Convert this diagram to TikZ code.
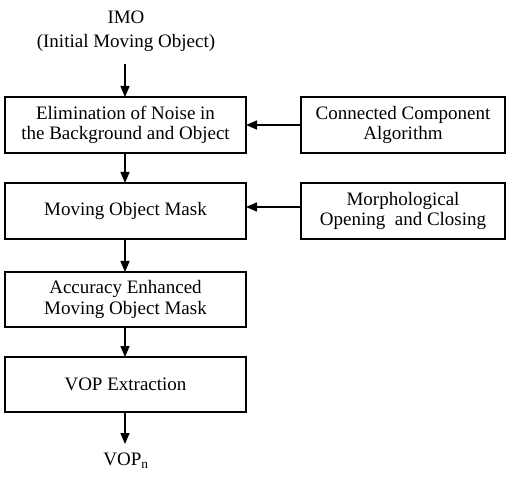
\documentclass[tikz,border=0pt]{standalone}
\usepackage{fontspec}
\setmainfont{Liberation Serif}
\usetikzlibrary{arrows.meta}
\begin{document}
\begin{tikzpicture}[x=1pt,y=-1pt,
  txt/.style={font=\fontsize{19}{20.5}\selectfont, align=center, inner sep=0pt},
  box/.style={draw, line width=1.2pt},
  arr/.style={-{Triangle[length=11pt,width=9pt]}, line width=1.4pt}]
\useasboundingbox (0,0) rectangle (506,478);
% boxes
\draw[box] (5,97) rectangle (246,153) coordinate[pos=0.5] (b1);
\draw[box] (5,183) rectangle (246,239) coordinate[pos=0.5] (b2);
\draw[box] (5,272) rectangle (246,327) coordinate[pos=0.5] (b3);
\draw[box] (5,357) rectangle (246,412) coordinate[pos=0.5] (b4);
\draw[box] (301,97) rectangle (505,153) coordinate[pos=0.5] (r1);
\draw[box] (301,183) rectangle (505,239) coordinate[pos=0.5] (r2);
\node[txt] at (b1) {Elimination of Noise in\\the Background and Object};
\node[txt] at (b2) {Moving Object Mask};
\node[txt] at (b3) {Accuracy Enhanced\\Moving Object Mask};
\node[txt] at (b4) {VOP Extraction};
\node[txt] at (r1) {Connected Component\\Algorithm};
\node[txt] at (r2) {Morphological\\Opening \ and Closing};
\node[txt, font=\fontsize{19}{24}\selectfont] (imo) at (126,31) {IMO\\(Initial Moving Object)};
\node[txt] (vop) at (126,461) {VOP\textsubscript{n}};
% named anchors
\coordinate (b1t) at (125,97);  \coordinate (b1b) at (125,153);
\coordinate (b2t) at (125,183); \coordinate (b2b) at (125,239);
\coordinate (b3t) at (125,272); \coordinate (b3b) at (125,327);
\coordinate (b4t) at (125,357); \coordinate (b4b) at (125,412);
\coordinate (imob) at (125,64); \coordinate (vopt) at (125,444);
\coordinate (r1l) at (301,125); \coordinate (b1r) at (246,125);
\coordinate (r2l) at (301,207); \coordinate (b2r) at (246,207);
% arrows
\draw[arr] (imob) -- (b1t);
\draw[arr] (b1b) -- (b2t);
\draw[arr] (b2b) -- (b3t);
\draw[arr] (b3b) -- (b4t);
\draw[arr] (b4b) -- (vopt);
\draw[arr] (r1l) -- (b1r);
\draw[arr] (r2l) -- (b2r);
\end{tikzpicture}
\end{document}
